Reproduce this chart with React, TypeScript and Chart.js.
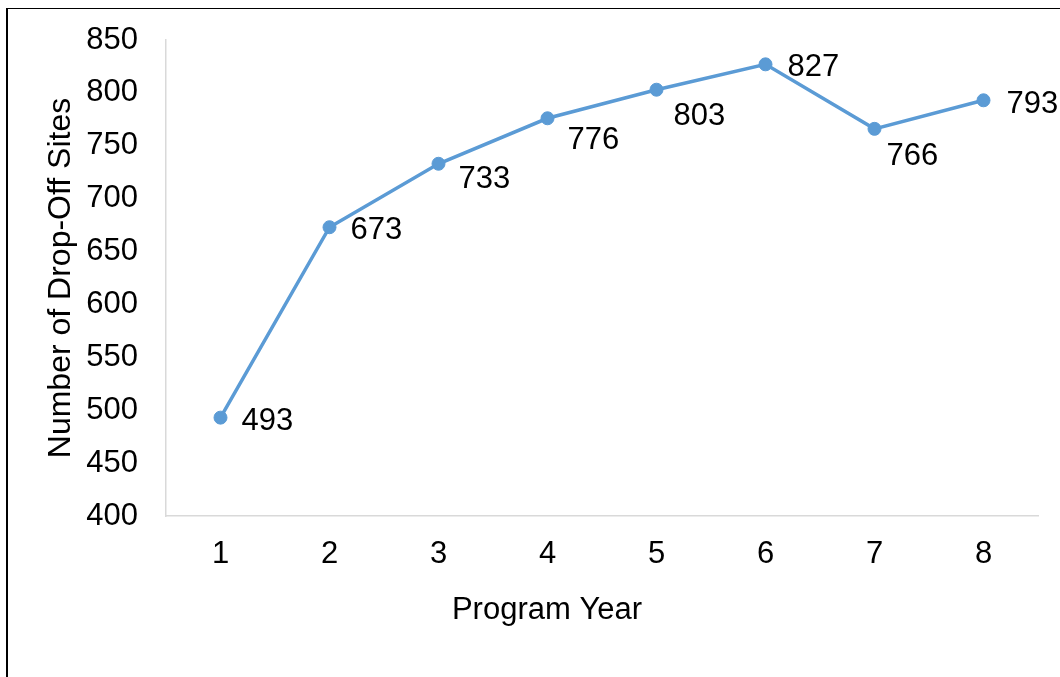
import React, { useEffect, useRef } from "react";
import { Chart, registerables } from "chart.js";

Chart.register(...registerables);

const categories = ["1", "2", "3", "4", "5", "6", "7", "8"];
const dropOffSites = [493, 673, 733, 776, 803, 827, 766, 793];
const yTickMin = 400;
const yTickMax = 850;
const yTickStep = 50;
const yAxisTitle = "Number of Drop-Off Sites";
const xAxisTitle = "Program Year";

// label placement (offset of the label's left / vertical centre from the point)
const labelDx = [21, 21, 20, 20, 17, 22, 12, 23];
const labelDy = [1, 1, 13, 20, 24, 1, 25, 2];

const FONT = "'Liberation Sans', Arial, sans-serif";
const FS = 31;

export default function App() {
  const ref = useRef<HTMLCanvasElement | null>(null);

  useEffect(() => {
    if (!ref.current) return;
    const labelPlugin = {
      id: "pointLabels",
      afterDatasetsDraw(chart: any) {
        const ctx = chart.ctx;
        const meta = chart.getDatasetMeta(0);
        ctx.save();
        ctx.font = `${FS}px ${FONT}`;
        ctx.fillStyle = "#000";
        ctx.textAlign = "left";
        ctx.textBaseline = "alphabetic";
        meta.data.forEach((el: any, i: number) => {
          ctx.fillText(String(dropOffSites[i]), el.x + labelDx[i], el.y + labelDy[i] + FS * 0.358);
        });
        ctx.restore();
      },
    };
    const xTitlePlugin = {
      id: "xTitle",
      afterDraw(chart: any) {
        const ctx = chart.ctx;
        ctx.save();
        ctx.font = `${FS}px ${FONT}`;
        ctx.fillStyle = "#000";
        ctx.textAlign = "center";
        ctx.textBaseline = "alphabetic";
        ctx.fillText(xAxisTitle, 547, 619);
        ctx.restore();
      },
    };
    const chart = new Chart(ref.current, {
      type: "line",
      data: {
        labels: categories,
        datasets: [
          {
            data: dropOffSites,
            borderColor: "#5B9BD5",
            backgroundColor: "#5B9BD5",
            borderWidth: 3.5,
            pointRadius: 6.5,
            pointHoverRadius: 6.5,
            pointBorderWidth: 1,
            pointBackgroundColor: "#5B9BD5",
            pointBorderColor: "#5B9BD5",
            tension: 0,
            fill: false,
          },
        ],
      },
      options: {
        responsive: false,
        animation: false,
        layout: { padding: { top: 40, right: 22, left: 0, bottom: 0 } },
        plugins: {
          legend: { display: false },
          tooltip: { enabled: false },
        },
        scales: {
          x: {
            type: "category",
            offset: true,
            grid: { display: false, drawTicks: false },
            border: { display: true, color: "#d9d9d9", width: 1.5 },
            ticks: { color: "#000", font: { family: FONT, size: FS }, padding: 20, maxRotation: 0 },
            afterFit: (s: any) => {
              s.height = 161;
              s.paddingLeft = 0;
              s.paddingRight = 0;
            },
          },
          y: {
            min: yTickMin,
            max: yTickMax,
            grid: { display: false, drawTicks: false },
            border: { display: true, color: "#d9d9d9", width: 1.5 },
            ticks: { stepSize: yTickStep, color: "#000", font: { family: FONT, size: FS }, padding: 28 },
            title: {
              display: true,
              text: yAxisTitle,
              color: "#000",
              font: { family: FONT, size: 32 },
              padding: { top: 42, bottom: 0 },
            },
            afterFit: (s: any) => {
              s.width = 166;
              s.paddingTop = 0;
              s.paddingBottom = 0;
            },
          },
        },
      },
      plugins: [labelPlugin, xTitlePlugin],
    });
    return () => chart.destroy();
  }, []);

  return (
    <div
      style={{
        position: "fixed",
        left: 0,
        top: 0,
        width: 1060,
        height: 677,
        background: "#fff",
        overflow: "hidden",
      }}
    >
      <canvas ref={ref} width={1060} height={677} style={{ position: "absolute", left: 0, top: 0 }} />
      <div
        style={{
          position: "absolute",
          left: 6,
          top: 8,
          width: 1200,
          height: 800,
          borderLeft: "2px solid #000",
          borderTop: "1px solid #000",
          pointerEvents: "none",
        }}
      />
    </div>
  );
}
